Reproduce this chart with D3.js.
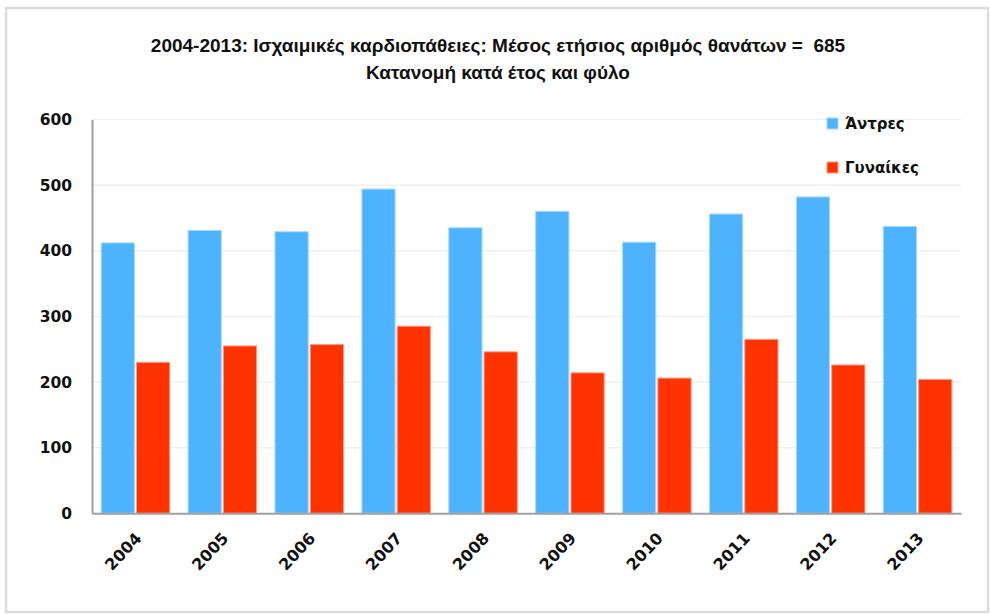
<!DOCTYPE html>
<html><head><meta charset="utf-8">
<script src="https://cdn.jsdelivr.net/npm/d3@7/dist/d3.min.js"></script>
<style>html,body{margin:0;padding:0;background:#fff;}svg{display:block;}</style>
</head><body>
<svg id="chart" width="990" height="614"></svg>
<script>
const years = ["2004","2005","2006","2007","2008","2009","2010","2011","2012","2013"];
const men   = [412, 431, 429, 494, 435, 460, 413, 456, 482, 437];
const women = [230, 255, 257, 285, 246, 214, 206, 265, 226, 204];
const seriesNames = ["Άντρες", "Γυναίκες"];
const yTicks = [0, 100, 200, 300, 400, 500, 600];
const titleLines = ["2004-2013: Ισχαιμικές καρδιοπάθειες: Μέσος ετήσιος αριθμός θανάτων =  685", "Κατανομή κατά έτος και φύλο"];

const colors = ["#4db3ff", "#ff3300"];
const strokes = ["#a6d9ff", "#ff9a80"];

const svg = d3.select("#chart");
// frame
svg.append("rect").attr("x",6).attr("y",8).attr("width",982).attr("height",604)
  .attr("fill","#fff").attr("stroke","#dcdcdc").attr("stroke-width",2.5);

const pLeft = 92, pRight = 961, pTop = 119.5, pBottom = 513.3;
const x0 = d3.scaleBand().domain(years).range([pLeft, pRight]).paddingInner(0.2).paddingOuter(0.1);
const x1 = d3.scaleBand().domain([0,1]).range([0, x0.bandwidth()]).paddingInner(0.03);
const y = d3.scaleLinear().domain([0, 600]).range([pBottom, pTop]);

// gridlines
svg.append("g").selectAll("line").data(yTicks.filter(d=>d>0)).join("line")
  .attr("x1", pLeft).attr("x2", pRight)
  .attr("y1", d=>y(d)).attr("y2", d=>y(d))
  .attr("stroke","#f0f0f0").attr("stroke-width",1.5);

// bars
const data = years.map((yr,i)=>({yr, vals:[men[i], women[i]]}));
const g = svg.append("g").selectAll("g").data(data).join("g")
  .attr("transform", d=>`translate(${x0(d.yr)},0)`);
g.selectAll("rect").data(d=>d.vals.map((v,k)=>({v,k}))).join("rect")
  .attr("x", d=>x1(d.k)+0.5).attr("width", x1.bandwidth()-1)
  .attr("y", d=>y(d.v)).attr("height", d=>pBottom - y(d.v))
  .attr("fill", d=>colors[d.k]).attr("stroke", d=>strokes[d.k]).attr("stroke-width",1);

// y axis
const yAxis = d3.axisLeft(y).tickValues(yTicks).tickSize(0).tickPadding(20);
const ya = svg.append("g").attr("transform",`translate(${pLeft},0)`).call(yAxis);
ya.select(".domain").attr("stroke","#a0a0a0").attr("stroke-width",2);
ya.selectAll("text").attr("font-family","DejaVu Sans").attr("font-weight","bold")
  .attr("font-size","15.5px").attr("fill","#111");

// x axis
const xAxis = d3.axisBottom(x0).tickSize(0).tickPadding(0);
const xa = svg.append("g").attr("transform",`translate(0,${pBottom})`).call(xAxis);
xa.select(".domain").attr("stroke","#a0a0a0").attr("stroke-width",2);
xa.selectAll("text").attr("font-family","DejaVu Sans").attr("font-weight","bold")
  .attr("font-size","16px").attr("fill","#111")
  .attr("text-anchor","end").attr("dy",null).attr("y",0)
  .attr("transform","translate(3,22) rotate(-47)").attr("dominant-baseline","central");

// title
svg.append("g").selectAll("text").data(titleLines).join("text")
  .attr("x", 498).attr("y", (d,i)=>45 + i*27)
  .attr("text-anchor","middle").attr("dominant-baseline","central")
  .style("white-space","pre")
  .attr("font-family","Liberation Sans Narrow, Liberation Sans, sans-serif").attr("font-weight","bold")
  .attr("font-size","19px").attr("fill","#111").text(d=>d);

// legend
const lg = svg.append("g").selectAll("g").data(seriesNames).join("g")
  .attr("transform",(d,i)=>`translate(827,${118 + i*44})`);
lg.append("rect").attr("width",11).attr("height",11)
  .attr("fill",(d,i)=>colors[i]).attr("stroke",(d,i)=>strokes[i]).attr("stroke-width",1);
lg.append("text").attr("x",18).attr("y",6).attr("dominant-baseline","central")
  .attr("font-family","DejaVu Sans").attr("font-size","15px").attr("font-weight","bold").attr("fill","#111")
  .text(d=>d);
</script>
</body></html>
